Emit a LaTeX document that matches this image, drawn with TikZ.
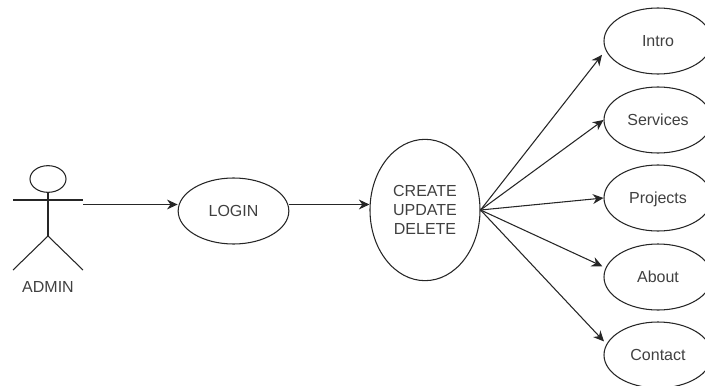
\documentclass[tikz,border=0pt]{standalone}
\usepackage{fontspec}
\setmainfont{Liberation Sans}
\usepackage{xcolor}
\usetikzlibrary{arrows.meta,shapes.geometric}
\colorlet{line_col}{black!85}
\colorlet{text_col}{black!75}
\tikzset{
    usecase/.style={draw=line_col,thick,ellipse,inner sep=0pt,text=text_col,font=\fontsize{12}{14}\selectfont,align=center},
    page_case/.style={usecase,minimum width=81pt,minimum height=49.5pt,text height=8.6pt,text depth=0pt},
    link/.style={-{Stealth[length=2.8mm,width=2.6mm]},thick,line_col},
    stick/.style={thick,line_col},
}

\begin{document}
\begin{tikzpicture}[x=0.75pt,y=-0.75pt]
  \useasboundingbox (0,0) rectangle (705,385);
  % Actor
  \node[draw=line_col,thick,ellipse,inner sep=0pt,minimum width=27pt,minimum height=20pt] (head) at (48,179) {};
  \coordinate (arm_l) at (13,200);
  \coordinate (arm_r) at (83,200);
  \coordinate (hip) at (48,236);
  \coordinate (foot_l) at (13,270);
  \coordinate (foot_r) at (83,270);
  \coordinate (hand) at (83,204.5);
  \draw[stick] (head.south) -- (hip);
  \draw[stick] (arm_l) -- (arm_r);
  \draw[stick] (foot_l) -- (hip) -- (foot_r);
  \node[text=text_col,font=\fontsize{12}{14}\selectfont] (admin) at (48,287) {ADMIN};
  % Use cases
  \node[usecase,minimum width=83pt,minimum height=49.5pt] (login) at (233.5,211) {LOGIN};
  \node[usecase,minimum width=82.5pt,minimum height=106pt] (crud) at (425,210) {CREATE\\UPDATE\\DELETE};
  \node[page_case] (intro) at (658,41) {Intro};
  \node[page_case] (services) at (658,120) {Services};
  \node[page_case] (projects) at (658,198) {Projects};
  \node[page_case] (about) at (658,277) {About};
  \node[page_case] (contact) at (658,355) {Contact};
  % Links
  \draw[link,shorten >=4.4pt] (crud.east) -- (intro.190);
  \draw[link] (crud.east) -- (services.west);
  \draw[link] (crud.east) -- (projects.west);
  \draw[link,shorten >=2.7pt] (crud.east) -- (about.170);
  \draw[link,shorten >=2.7pt] (crud.east) -- (contact.168);
  \draw[link] (hand) -- (hand -| login.west);
  \draw[link] (login.east |- hand) -- (hand -| crud.west);
\end{tikzpicture}
\end{document}
